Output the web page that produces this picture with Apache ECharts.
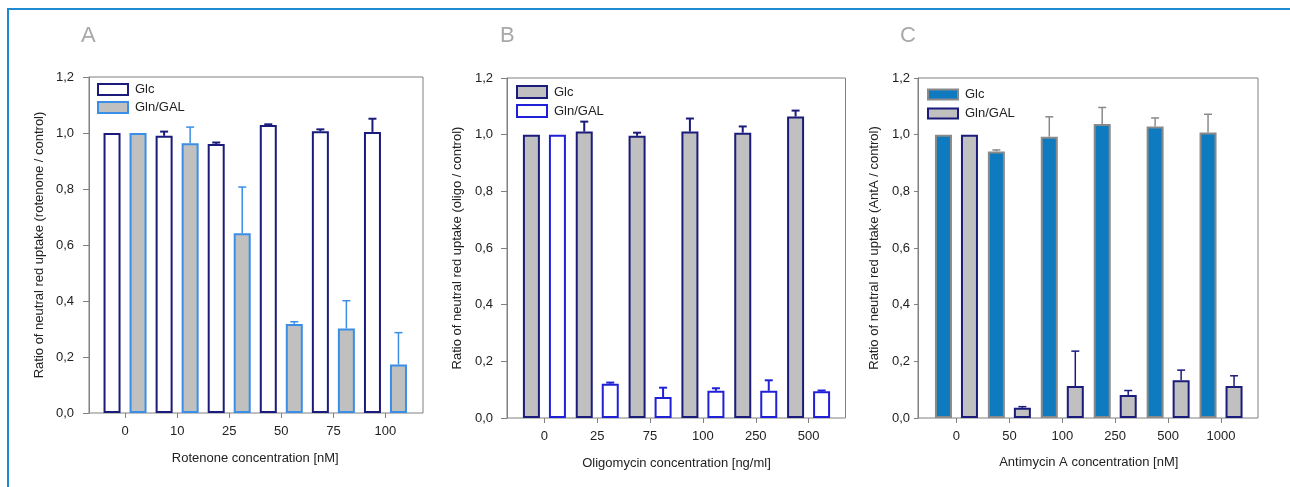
<!DOCTYPE html>
<html>
<head>
<meta charset="utf-8">
<script src="https://cdn.jsdelivr.net/npm/echarts@6/dist/echarts.min.js"></script>
<style>
  html, body { margin: 0; padding: 0; background: #ffffff; }
  #wrap { position: relative; width: 1290px; height: 487px; overflow: hidden; }
  #chart { position: absolute; left: 0; top: 0; width: 1290px; height: 487px; }
  #frame { position: absolute; left: 7px; top: 8px; right: -4px; bottom: -4px;
           border-top: 2px solid #1e8ad2; border-left: 2px solid #1e8ad2; pointer-events: none; }
</style>
</head>
<body>
<div id="wrap"><div id="chart"></div><div id="frame"></div></div>
<script>
// ---------------- DATA ----------------
const yTicks = [0, 0.2, 0.4, 0.6, 0.8, 1.0, 1.2];
const panelLetters = ['A', 'B', 'C'];
const seriesNames = ['Glc', 'Gln/GAL'];

// Panel A: Rotenone
const catA = ['0', '10', '25', '50', '75', '100'];
const glcA = [1.000, 0.990, 0.961, 1.029, 1.006, 1.004];
const glcAErr = [0, 0.015, 0.005, 0.002, 0.007, 0.047];
const galA = [1.000, 0.963, 0.642, 0.318, 0.302, 0.173];
const galAErr = [0, 0.058, 0.165, 0.008, 0.099, 0.114];
const xNameA = 'Rotenone concentration [nM]';
const yNameA = 'Ratio of neutral red uptake (rotenone / control)';

// Panel B: Oligomycin
const catB = ['0', '25', '75', '100', '250', '500'];
const glcB = [1.000, 1.011, 0.996, 1.011, 1.007, 1.064];
const glcBErr = [0, 0.035, 0.011, 0.046, 0.022, 0.021];
const galB = [1.000, 0.121, 0.074, 0.096, 0.096, 0.094];
const galBErr = [0, 0.004, 0.033, 0.009, 0.037, 0.003];
const xNameB = 'Oligomycin concentration [ng/ml]';
const yNameB = 'Ratio of neutral red uptake (oligo / control)';

// Panel C: Antimycin A
const catC = ['0', '50', '100', '250', '500', '1000'];
const glcC = [1.000, 0.941, 0.993, 1.038, 1.029, 1.008];
const glcCErr = [0, 0.005, 0.070, 0.058, 0.030, 0.064];
const galC = [1.000, 0.036, 0.113, 0.081, 0.133, 0.113];
const galCErr = [0, 0.004, 0.123, 0.016, 0.036, 0.036];
const xNameC = 'Antimycin A concentration [nM]';
const yNameC = 'Ratio of neutral red uptake (AntA / control)';

// ---------------- STYLE / LAYOUT ----------------
const NAVY = '#1b1b7b', LBLUE = '#3a8ee6', GRAY = '#c0c0c0', BBLUE = '#2020d8',
      CBLUE = '#0e7bc0', CGRAYB = '#8a8a8a', TXT = '#222222';
const BAR_W = 17, GAP_RATIO = 0.53;
const OFF = BAR_W * (1 + GAP_RATIO) / 2;

const panels = [
  { cats: catA, glc: glcA, glcErr: glcAErr, gal: galA, galErr: galAErr, xName: xNameA, yName: yNameA,
    frame: { left: 89, top: 77, width: 334, height: 336 },
    data: { left: 99, top: 77, width: 312.5, height: 336 },
    glcStyle: { color: '#ffffff', borderColor: NAVY }, glcErrColor: NAVY, glcErrW: 2,
    galStyle: { color: GRAY, borderColor: LBLUE }, galErrColor: LBLUE, galErrW: 1.5,
    legend: { left: 97, top: 83, h: 11, gap: 5 },
    letter: { left: 81, top: 25 },
    yLabelMargin: 15, yTickLen: 6, yNameGap: 43, xNameGap: 39 },
  { cats: catB, glc: glcB, glcErr: glcBErr, gal: galB, galErr: galBErr, xName: xNameB, yName: yNameB,
    frame: { left: 507, top: 78, width: 338.5, height: 340 },
    data: { left: 518, top: 78, width: 317, height: 340 },
    glcStyle: { color: GRAY, borderColor: NAVY }, glcErrColor: NAVY, glcErrW: 2,
    galStyle: { color: '#ffffff', borderColor: BBLUE }, galErrColor: BBLUE, galErrW: 2,
    legend: { left: 516, top: 85, h: 12, gap: 5 },
    letter: { left: 500, top: 25 },
    yLabelMargin: 14, yTickLen: 6, yNameGap: 43, xNameGap: 39 },
  { cats: catC, glc: glcC, glcErr: glcCErr, gal: galC, galErr: galCErr, xName: xNameC, yName: yNameC,
    frame: { left: 918, top: 78, width: 340, height: 340 },
    data: { left: 930, top: 78, width: 317.5, height: 340 },
    glcStyle: { color: CBLUE, borderColor: CGRAYB }, glcErrColor: CGRAYB, glcErrW: 1.5,
    galStyle: { color: GRAY, borderColor: NAVY }, galErrColor: NAVY, galErrW: 1.5,
    legend: { left: 927, top: 88, h: 10, gap: 6 },
    letter: { left: 900, top: 25 },
    yLabelMargin: 8, yTickLen: 4, yNameGap: 37, xNameGap: 38 }
];

const FONT = 'Liberation Sans, Arial, sans-serif';
const fmt = v => v.toFixed(1).replace('.', ',');

function errRender(sign, color, w) {
  return function (params, api) {
    const e = api.value(2);
    if (!e) return null;
    const m = api.value(1);
    const base = api.coord([api.value(0), m]);
    const top = api.coord([api.value(0), m + e]);
    const cx = base[0] + sign * OFF;
    return {
      type: 'group',
      children: [
        { type: 'line', shape: { x1: cx, y1: base[1], x2: cx, y2: top[1] },
          style: { stroke: color, lineWidth: w } },
        { type: 'line', shape: { x1: cx - 4, y1: top[1], x2: cx + 4, y2: top[1] },
          style: { stroke: color, lineWidth: w } }
      ]
    };
  };
}

const option = {
  backgroundColor: '#ffffff',
  animation: false,
  textStyle: { fontFamily: FONT },
  title: [], grid: [], xAxis: [], yAxis: [], legend: [], series: []
};

panels.forEach((p, i) => {
  const gF = 2 * i, gD = 2 * i + 1;
  option.title.push({
    text: panelLetters[i], left: p.letter.left, top: p.letter.top, padding: 0,
    textStyle: { color: '#a8a8a8', fontSize: 22, fontWeight: 'normal', fontFamily: FONT }
  });
  option.grid.push(Object.assign({ show: true, borderColor: '#808080', borderWidth: 1,
    backgroundColor: 'transparent', containLabel: false }, p.frame));
  option.grid.push(Object.assign({ containLabel: false }, p.data));

  // frame axes
  option.xAxis.push({ gridIndex: gF, type: 'value', show: false, min: 0, max: 1 });
  option.yAxis.push({
    gridIndex: gF, type: 'value', min: yTicks[0], max: yTicks[yTicks.length - 1], interval: 0.2,
    name: p.yName, nameLocation: 'middle', nameGap: p.yNameGap,
    nameTextStyle: { color: TXT, fontSize: 13, fontFamily: FONT },
    axisLine: { show: true, lineStyle: { color: '#808080', width: 1 } },
    axisTick: { show: true, length: p.yTickLen, lineStyle: { color: '#808080' } },
    axisLabel: { color: TXT, fontSize: 13, margin: p.yLabelMargin, formatter: fmt, fontFamily: FONT },
    splitLine: { show: false }
  });
  // data axes
  option.xAxis.push({
    gridIndex: gD, type: 'category', data: p.cats,
    name: p.xName, nameLocation: 'middle', nameGap: p.xNameGap,
    nameTextStyle: { color: TXT, fontSize: 13, fontFamily: FONT },
    axisLine: { show: false },
    axisTick: { show: true, alignWithLabel: true, length: 5, lineStyle: { color: '#808080' } },
    axisLabel: { color: TXT, fontSize: 13, margin: 12, fontFamily: FONT },
    splitLine: { show: false }
  });
  option.yAxis.push({ gridIndex: gD, type: 'value', min: 0, max: 1.2, show: false });

  option.legend.push({
    orient: 'vertical', left: p.legend.left, top: p.legend.top, padding: 0,
    itemWidth: 30, itemHeight: p.legend.h, itemGap: p.legend.gap, icon: 'rect',
    selectedMode: false,
    textStyle: { color: TXT, fontSize: 13, fontFamily: FONT, padding: [0, 0, 0, 2] },
    data: [
      { name: seriesNames[0] + '\u200B'.repeat(i), itemStyle: Object.assign({ borderWidth: 2 }, p.glcStyle) },
      { name: seriesNames[1] + '\u200B'.repeat(i), itemStyle: Object.assign({ borderWidth: 2 }, p.galStyle) }
    ]
  });

  option.series.push({
    name: seriesNames[0] + '\u200B'.repeat(i), type: 'bar', xAxisIndex: gD, yAxisIndex: gD,
    data: p.glc, barWidth: BAR_W, barGap: (GAP_RATIO * 100) + '%',
    itemStyle: Object.assign({ borderWidth: 2 }, p.glcStyle),
    emphasis: { disabled: true }
  });
  option.series.push({
    name: seriesNames[1] + '\u200B'.repeat(i), type: 'bar', xAxisIndex: gD, yAxisIndex: gD,
    data: p.gal, barWidth: BAR_W, barGap: (GAP_RATIO * 100) + '%',
    itemStyle: Object.assign({ borderWidth: 2 }, p.galStyle),
    emphasis: { disabled: true }
  });
  option.series.push({
    type: 'custom', xAxisIndex: gD, yAxisIndex: gD, z: 5,
    renderItem: errRender(-1, p.glcErrColor, p.glcErrW),
    encode: { x: 0, y: 1 },
    data: p.glc.map((v, k) => [k, v, p.glcErr[k]])
  });
  option.series.push({
    type: 'custom', xAxisIndex: gD, yAxisIndex: gD, z: 5,
    renderItem: errRender(1, p.galErrColor, p.galErrW),
    encode: { x: 0, y: 1 },
    data: p.gal.map((v, k) => [k, v, p.galErr[k]])
  });
});

const chart = echarts.init(document.getElementById('chart'), null, { renderer: 'canvas' });
chart.setOption(option);
</script>
</body>
</html>
